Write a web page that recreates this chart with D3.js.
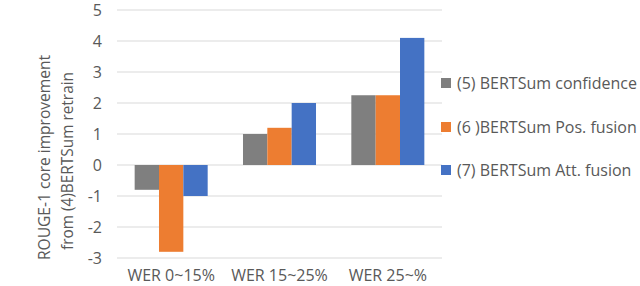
<!DOCTYPE html>
<html>
<head>
<meta charset="utf-8">
<script src="https://cdn.jsdelivr.net/npm/d3@7"></script>
<style>
  body { margin: 0; background: #fff; }
  text { font-family: "Open Sans", "Noto Sans", sans-serif; fill: #595959; }
</style>
</head>
<body>
<div id="chart"></div>
<script>
const categories = ["WER 0~15%", "WER 15~25%", "WER 25~%"];
const seriesNames = ["(5) BERTSum confidence", "(6 )BERTSum Pos. fusion", "(7) BERTSum Att. fusion"];
const confidence = [-0.8, 1.0, 2.25];
const posFusion = [-2.8, 1.2, 2.25];
const attFusion = [-1.0, 2.0, 4.1];
const yTicks = [-3, -2, -1, 0, 1, 2, 3, 4, 5];
const colors = ["#7f7f7f", "#ed7d31", "#4472c4"];

const width = 640, height = 286;
const plot = { left: 117, right: 442, top: 10, bottom: 258 };

const svg = d3.select("#chart").append("svg")
    .attr("width", width)
    .attr("height", height);

const series = [confidence, posFusion, attFusion];

const yScale = d3.scaleLinear().domain([-3, 5]).range([plot.bottom, plot.top]);

const x0 = d3.scaleBand()
    .domain(categories)
    .range([plot.left, plot.right])
    .paddingInner(0.326)
    .paddingOuter(0.163);

const x1 = d3.scaleBand()
    .domain(d3.range(series.length))
    .range([0, x0.bandwidth()]);

// gridlines
svg.append("g")
    .selectAll("line")
    .data(yTicks)
    .enter().append("line")
    .attr("x1", plot.left)
    .attr("x2", plot.right)
    .attr("y1", d => yScale(d))
    .attr("y2", d => yScale(d))
    .attr("stroke", "#d9d9d9")
    .attr("stroke-width", 1);

// bars
categories.forEach(function(cat, ci) {
    const g = svg.append("g").attr("transform", `translate(${x0(cat)},0)`);
    g.selectAll("rect")
        .data(series.map((s, si) => ({ si: si, v: s[ci] })))
        .enter().append("rect")
        .attr("x", d => x1(d.si))
        .attr("width", x1.bandwidth())
        .attr("y", d => yScale(Math.max(0, d.v)))
        .attr("height", d => Math.abs(yScale(d.v) - yScale(0)))
        .attr("fill", d => colors[d.si]);
});

// y axis labels
const yAxis = svg.append("g")
    .attr("transform", `translate(${plot.left - 15},0)`)
    .call(d3.axisLeft(yScale).tickValues(yTicks).tickFormat(d => String(d)).tickSize(0).tickPadding(0));
yAxis.select(".domain").remove();
yAxis.selectAll("text").style("font-size", "16px").attr("fill", "#595959");

// x axis labels
const xAxis = svg.append("g")
    .attr("transform", `translate(0,${plot.bottom})`)
    .call(d3.axisBottom(x0).tickSize(0).tickPadding(12));
xAxis.select(".domain").remove();
xAxis.selectAll("text").style("font-size", "16px").attr("fill", "#595959");

// y axis title
svg.append("text")
    .attr("transform", "translate(50,157.5) rotate(-90)")
    .attr("text-anchor", "middle")
    .attr("textLength", 205)
    .attr("lengthAdjust", "spacingAndGlyphs")
    .style("font-size", "16px")
    .text("ROUGE-1 core improvement");
svg.append("text")
    .attr("transform", "translate(73,161) rotate(-90)")
    .attr("text-anchor", "middle")
    .attr("textLength", 178)
    .attr("lengthAdjust", "spacingAndGlyphs")
    .style("font-size", "16px")
    .text("from (4)BERTSum retrain");

// legend
const legendY = [83, 127, 170];
const legend = svg.append("g").attr("transform", "translate(441,0)");
legend.selectAll("rect")
    .data(seriesNames)
    .enter().append("rect")
    .attr("x", 0)
    .attr("y", (d, i) => legendY[i] - 5)
    .attr("width", 10)
    .attr("height", 10)
    .attr("fill", (d, i) => colors[i]);
legend.selectAll("text")
    .data(seriesNames)
    .enter().append("text")
    .attr("x", 16)
    .attr("y", (d, i) => legendY[i])
    .attr("dy", "0.35em")
    .style("font-size", "16px")
    .text(d => d);
</script>
</body>
</html>
